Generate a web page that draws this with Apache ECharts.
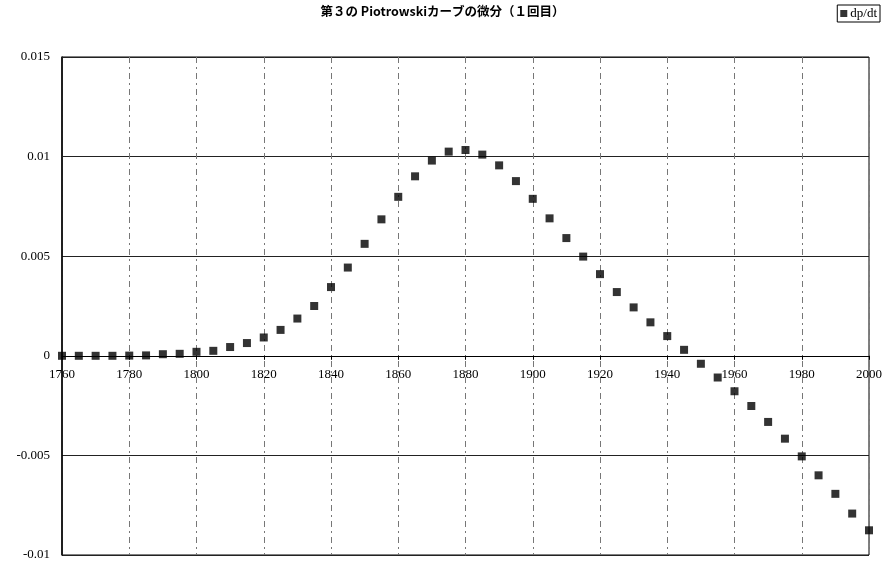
<!DOCTYPE html>
<html><head><meta charset="utf-8">
<script src="https://cdn.jsdelivr.net/npm/echarts@6/dist/echarts.min.js"></script>
<style>html,body{margin:0;padding:0;background:#fff}#c{width:885px;height:567px}</style>
</head><body><div id="c"></div>
<script>
const years = [1760,1765,1770,1775,1780,1785,1790,1795,1800,1805,1810,1815,1820,1825,1830,1835,1840,1845,1850,1855,1860,1865,1870,1875,1880,1885,1890,1895,1900,1905,1910,1915,1920,1925,1930,1935,1940,1945,1950,1955,1960,1965,1970,1975,1980,1985,1990,1995,2000];
const dpdt = [0,0,0,0,0.00001,0.00002,0.00008,0.0001,0.0002,0.00025,0.00044,0.00064,0.00092,0.0013,0.00187,0.0025,0.00345,0.00443,0.00562,0.00685,0.00798,0.00901,0.0098,0.01025,0.01033,0.0101,0.00956,0.00877,0.00788,0.0069,0.00591,0.00498,0.0041,0.0032,0.00243,0.00168,0.00099,0.0003,-0.0004,-0.00109,-0.00178,-0.00252,-0.00332,-0.00416,-0.00505,-0.006,-0.00693,-0.00792,-0.00876];
const seriesName = 'dp/dt';
const titleText = '第３の Piotrowskiカーブの微分（１回目）';
const yMin = -0.01, yMax = 0.015;

const gridTop = 57, gridBottom = 12, chartH = 567;
const plotH = chartH - gridTop - gridBottom;
const zeroOffset = -plotH * (0 - yMin) / (yMax - yMin);

const chart = echarts.init(document.getElementById('c'));
chart.setOption({
  animation: false,
  backgroundColor: '#fff',
  title: {
    text: titleText, left: 'center', top: 0,
    textStyle: {fontFamily: 'Noto Sans CJK JP', fontSize: 12.5, fontWeight: 'bold', color: '#000'}
  },
  legend: {
    right: 5, top: 5, itemWidth: 7, itemHeight: 7, itemGap: 4,
    borderColor: '#000', borderWidth: 1, padding: [2, 3, 2, 3],
    textStyle: {fontFamily: 'Liberation Serif', fontSize: 13, color: '#000', padding: [0,0,0,-2]},
    data: [{name: seriesName, icon: 'rect'}]
  },
  grid: {left: 62, right: 16, top: gridTop, bottom: gridBottom, show: true, borderColor: '#000', borderWidth: 1},
  xAxis: {
    type: 'value', min: 1760, max: 2000, interval: 20,
    offset: zeroOffset,
    axisLine: {onZero: false, lineStyle: {color: '#000', width: 1}},
    axisTick: {show: true, length: 4, lineStyle: {color: '#000'}},
    axisLabel: {fontFamily: 'Liberation Serif', fontSize: 13, color: '#000', margin: 12, formatter: v => String(v)},
    splitLine: {show: true, lineStyle: {color: '#777', type: [6, 4, 2, 4], width: 1}}
  },
  yAxis: {
    type: 'value', min: yMin, max: yMax, interval: 0.005,
    axisLine: {show: true, onZero: false, lineStyle: {color: '#000', width: 1.5}},
    axisTick: {show: false},
    axisLabel: {fontFamily: 'Liberation Serif', fontSize: 13, color: '#000', margin: 12, formatter: v => String(Math.round(v * 1000) / 1000)},
    splitLine: {show: true, lineStyle: {color: '#222', width: 1}}
  },
  series: [{
    name: seriesName, type: 'scatter', symbol: 'rect', symbolSize: 8,
    itemStyle: {color: '#000'},
    data: years.map((y, i) => [y, dpdt[i]])
  }]
});
</script>
</body></html>
